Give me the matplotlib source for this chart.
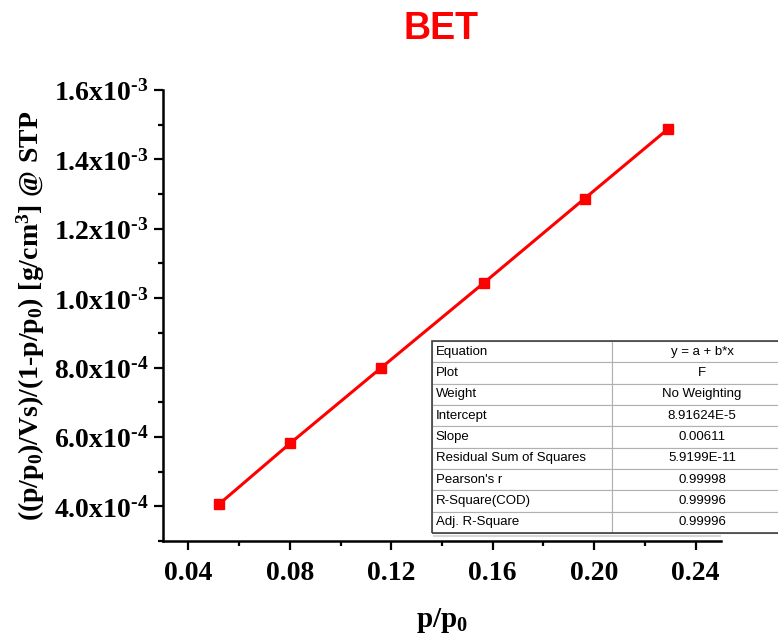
import matplotlib
matplotlib.use("Agg")
import matplotlib.pyplot as plt
from matplotlib.ticker import MultipleLocator, AutoMinorLocator, FuncFormatter
from matplotlib.patches import Rectangle

RED = "#ff0000"

# data
p_rel = [0.0522, 0.0802, 0.1158, 0.1565, 0.1962, 0.2290]
bet_y = [4.07e-4, 5.82e-4, 7.98e-4, 1.044e-3, 1.287e-3, 1.487e-3]

fit_names = ["Equation", "Plot", "Weight", "Intercept", "Slope",
             "Residual Sum of Squares", "Pearson's r", "R-Square(COD)", "Adj. R-Square"]
fit_values = ["y = a + b*x", "F", "No Weighting", "8.91624E-5", "0.00611",
              "5.9199E-11", "0.99998", "0.99996", "0.99996"]

x_ticks = [0.04, 0.08, 0.12, 0.16, 0.20, 0.24]

plt.rcParams["mathtext.fontset"] = "custom"
plt.rcParams["mathtext.rm"] = "Liberation Serif:bold"
plt.rcParams["mathtext.bf"] = "Liberation Serif:bold"
plt.rcParams["mathtext.it"] = "Liberation Serif:bold"

fig = plt.figure(figsize=(7.78, 6.35), dpi=100, facecolor="white")
ax = fig.add_axes([163 / 778, 1 - 541 / 635, (721 - 163) / 778, (541 - 90) / 635])

ax.plot(p_rel, bet_y, color=RED, linewidth=2.2, marker="s", markersize=7,
        markerfacecolor=RED, markeredgecolor=RED)

ax.set_xlim(0.03, 0.25)
ax.set_ylim(3.0e-4, 1.6e-3)
ax.set_xticks(x_ticks)
ax.xaxis.set_minor_locator(AutoMinorLocator(2))
ax.yaxis.set_major_locator(MultipleLocator(2e-4))
ax.yaxis.set_minor_locator(AutoMinorLocator(2))


def sci_label(v, _):
    if v <= 0:
        return ""
    exp = int(f"{v:.1e}".split("e")[1])
    mant = v / 10 ** exp
    return r"$\mathbf{%.1fx10^{\text{-}%d}}$" % (mant, -exp)


ax.yaxis.set_major_formatter(FuncFormatter(sci_label))
ax.xaxis.set_major_formatter(FuncFormatter(lambda v, _: f"{v:.2f}"))

for lab in ax.get_xticklabels():
    lab.set_fontfamily("Liberation Serif")
    lab.set_fontweight("bold")
ax.tick_params(axis="x", labelsize=20, pad=8)
ax.tick_params(axis="y", labelsize=20, pad=4)
ax.tick_params(which="major", direction="out", length=6.5, width=1.6, color="black")
ax.tick_params(which="minor", direction="out", length=3.5, width=1.6, color="black")

for side in ["top", "right"]:
    ax.spines[side].set_visible(False)
for side in ["left", "bottom"]:
    ax.spines[side].set_linewidth(1.8)

ax.set_xlabel(r"$\mathbf{p/p_0}$", fontsize=21, labelpad=14)
ax.set_ylabel(r"$\mathbf{((p/p_0)/Vs)/(1\text{-}p/p_0)\ [g/cm^3]\ @\ STP}$",
              fontsize=20, labelpad=5)

fig.text(441 / 778, 1 - 29 / 635, "BET", color=RED, fontsize=27,
         fontweight="bold", family="Liberation Sans", ha="center", va="center")

# fit result table
tab_ax = fig.add_axes([432 / 778, 1 - 533 / 635, 360 / 778, 192 / 635])
tab_ax.axis("off")
rows = [[n, v] for n, v in zip(fit_names, fit_values)]
table = tab_ax.table(cellText=rows, bbox=[0, 0, 1, 1], colWidths=[0.5, 0.5],
                     cellLoc="left")
table.auto_set_font_size(False)
for (r, c), cell in table.get_celld().items():
    cell.set_edgecolor("#b0b0b0")
    cell.set_linewidth(0.8)
    cell.get_text().set_fontsize(9.5)
    cell.get_text().set_fontfamily("Liberation Sans")
    if c == 1:
        cell.get_text().set_horizontalalignment("center")
        cell._loc = "center"
    else:
        cell.PAD = 0.02
tab_ax.add_patch(Rectangle((0, 0), 1, 1, transform=tab_ax.transAxes, fill=False,
                           edgecolor="#404040", linewidth=1.2, clip_on=False))
# faint shadow line under the table
fig.add_artist(plt.Line2D([434 / 778, 720 / 778], [1 - 536 / 635, 1 - 536 / 635],
                          color="#d8d8d8", linewidth=1.5))

fig.savefig("out.png", dpi=100, facecolor="white")
